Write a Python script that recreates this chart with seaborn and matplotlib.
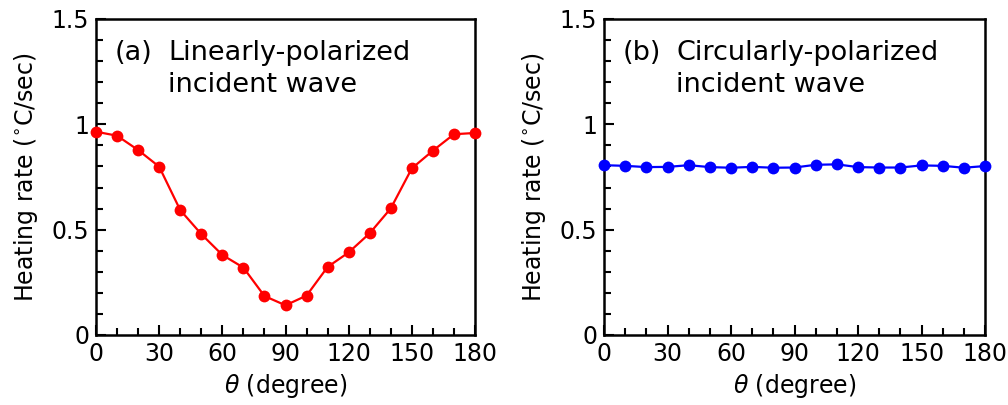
import numpy as np
import pandas as pd
import matplotlib
matplotlib.use("Agg")
import matplotlib.pyplot as plt
import seaborn as sns
from matplotlib.ticker import MultipleLocator, FuncFormatter

theta = [0, 10, 20, 30, 40, 50, 60, 70, 80, 90, 100, 110, 120, 130, 140, 150, 160, 170, 180]
linear_rate = [0.965, 0.946, 0.878, 0.799, 0.593, 0.479, 0.380, 0.320, 0.185, 0.141,
               0.187, 0.323, 0.392, 0.483, 0.601, 0.791, 0.875, 0.953, 0.959]
circular_rate = [0.806, 0.803, 0.797, 0.798, 0.806, 0.797, 0.794, 0.798, 0.794, 0.795,
                 0.808, 0.810, 0.797, 0.795, 0.795, 0.805, 0.803, 0.794, 0.802]
panel_labels = ["(a)", "(b)"]
panel_titles = ["Linearly-polarized\nincident wave", "Circularly-polarized\nincident wave"]
colors = ["#ff0000", "#0000ff"]
x_ticks = [0, 30, 60, 90, 120, 150, 180]
y_ticks = [0, 0.5, 1, 1.5]

sns.set_theme(style="ticks")
plt.rcParams['font.family'] = ['DejaVu Sans']
plt.rcParams['mathtext.fontset'] = 'dejavusans'
plt.rcParams['text.color'] = 'black'
plt.rcParams['axes.labelcolor'] = 'black'

fig = plt.figure(figsize=(10.08, 4.05), dpi=100)
W, H = 1008, 405
axes = [fig.add_axes([96 / W, 1 - 335 / H, (475 - 96) / W, (335 - 19) / H]),
        fig.add_axes([604 / W, 1 - 335 / H, (985 - 604) / W, (335 - 19) / H])]

series = [linear_rate, circular_rate]
fmt = FuncFormatter(lambda v, p: ("%g" % v))
for ax, vals, col, lab, title in zip(axes, series, colors, panel_labels, panel_titles):
    df = pd.DataFrame({"theta": theta, "rate": vals})
    sns.lineplot(data=df, x="theta", y="rate", ax=ax, color=col, marker="o",
                 markersize=8.5, markeredgewidth=0, linewidth=1.6, clip_on=False, zorder=3)
    ax.set_xlim(0, 180)
    ax.set_ylim(0, 1.5)
    ax.set_xticks(x_ticks)
    ax.set_yticks(y_ticks)
    ax.yaxis.set_major_formatter(fmt)
    ax.xaxis.set_minor_locator(MultipleLocator(10))
    ax.yaxis.set_minor_locator(MultipleLocator(0.1))
    ax.tick_params(which="both", direction="in", top=False, right=False, width=1.5,
                   colors="black", labelsize=17, pad=5)
    ax.tick_params(which="major", length=7)
    ax.tick_params(which="minor", length=5)
    for s in ax.spines.values():
        s.set_linewidth(1.8)
        s.set_color("black")
    ax.set_xlabel(r"$\theta$ (degree)", fontsize=17, labelpad=4, color="black")
    ax.set_ylabel(r"Heating rate ($^{\circ}$C/sec)", fontsize=17, labelpad=8, color="black")
    ax.text(0.05, 0.935, lab, transform=ax.transAxes, fontsize=19.5, va="top", ha="left",
            color="black")
    ax.text(0.19, 0.935, title, transform=ax.transAxes, fontsize=19.5, va="top", ha="left",
            linespacing=1.3, color="black")

fig.savefig("out.png", dpi=100)
